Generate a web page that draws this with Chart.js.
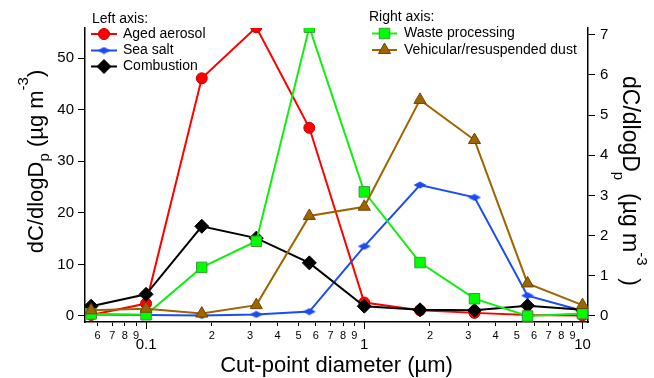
<!DOCTYPE html>
<html>
<head>
<meta charset="utf-8">
<script src="https://cdn.jsdelivr.net/npm/chart.js@4/dist/chart.umd.min.js"></script>
<style>
  html, body { margin: 0; padding: 0; background: #fff; }
</style>
</head>
<body>
<canvas id="myChart" width="654" height="378"></canvas>
<script>
// impactor cut-point diameters (µm)
const diameters = [0.056, 0.1, 0.18, 0.32, 0.56, 1.0, 1.8, 3.2, 5.6, 10];

// left axis sources
const agedAerosol = [0.2, 2.4, 46.1, 56.0, 36.5, 2.6, 1.1, 0.6, 0.2, 0.1];
const seaSalt = [0.3, 0.2, 0.1, 0.3, 0.85, 13.5, 25.4, 23.0, 3.95, 1.0];
const combustion = [1.9, 4.2, 17.4, 15.1, 10.3, 1.9, 1.2, 1.1, 2.0, 1.2];

// right axis sources
const wasteProcessing = [0.05, 0.03, 1.21, 1.86, 7.19, 3.09, 1.33, 0.43, 0.0, 0.06];
const vehicularDust = [0.14, 0.18, 0.06, 0.27, 2.49, 2.72, 5.38, 4.38, 0.81, 0.27];

// ticks
const xMajor = [0.1, 1, 10];
const xTicks = [0.06, 0.07, 0.08, 0.09, 0.1, 0.2, 0.3, 0.4, 0.5, 0.6, 0.7, 0.8, 0.9, 1,
  2, 3, 4, 5, 6, 7, 8, 9, 10];
const leftTicks = [0, 10, 20, 30, 40, 50];
const rightTicks = [0, 1, 2, 3, 4, 5, 6, 7];

const FONT = "'Liberation Sans', Arial, sans-serif";
Chart.defaults.font.family = FONT;
Chart.defaults.color = "#000";

const pts = arr => diameters.map((d, i) => ({ x: d, y: arr[i] }));
const isMajor = v => xMajor.some(m => Math.abs(v - m) < 1e-9);

// flat blue diamond for sea salt
const diamond = document.createElement("canvas");
diamond.width = 14;
diamond.height = 8;
(function () {
  const c = diamond.getContext("2d");
  c.fillStyle = "#1a4cf2";
  c.beginPath();
  c.moveTo(0.5, 4);
  c.lineTo(7, 0.5);
  c.lineTo(13.5, 4);
  c.lineTo(7, 7.5);
  c.closePath();
  c.fill();
})();

const datasets = [
  {
    label: "Aged aerosol", data: pts(agedAerosol), yAxisID: "y", order: 5,
    borderColor: "#ff0000", backgroundColor: "#ff0000", borderWidth: 2,
    pointStyle: "circle", pointRadius: 5.5, pointBorderColor: "#c00000", pointBorderWidth: 1,
  },
  {
    label: "Sea salt", data: pts(seaSalt), yAxisID: "y", order: 4,
    borderColor: "#1a4cf2", backgroundColor: "#1a4cf2", borderWidth: 2,
    pointStyle: diamond, pointRadius: 6,
  },
  {
    label: "Combustion", data: pts(combustion), yAxisID: "y", order: 3,
    borderColor: "#000000", backgroundColor: "#000000", borderWidth: 2,
    pointStyle: "rectRot", pointRadius: 7, pointBorderWidth: 1,
  },
  {
    label: "Waste processing", data: pts(wasteProcessing), yAxisID: "y1", order: 2,
    borderColor: "#11ee11", backgroundColor: "#00ff00", borderWidth: 2,
    pointStyle: "rect", pointRadius: 7.4, pointBorderColor: "#3c9b3c", pointBorderWidth: 1,
  },
  {
    label: "Vehicular/resuspended dust", data: pts(vehicularDust), yAxisID: "y1", order: 1,
    borderColor: "#9c6500", backgroundColor: "#9c6500", borderWidth: 2,
    pointStyle: "triangle", pointRadius: 7, pointBorderColor: "#6e4700", pointBorderWidth: 1,
  },
];

function drawMarker(ctx, ds, x, y) {
  ctx.save();
  ctx.fillStyle = ds.backgroundColor;
  ctx.strokeStyle = ds.pointBorderColor || ds.borderColor;
  ctx.lineWidth = ds.pointBorderWidth || 0;
  Chart.helpers.drawPoint(ctx, {
    pointStyle: ds.pointStyle, radius: ds.pointRadius, rotation: 0,
    borderWidth: ds.pointBorderWidth || 0,
  }, x, y);
  ctx.restore();
}

function drawRich(ctx, parts) {
  let total = 0;
  parts.forEach(p => {
    ctx.font = p.size + "px " + FONT;
    p.w = ctx.measureText(p.t).width;
    total += p.w;
  });
  let x = -total / 2;
  parts.forEach(p => {
    ctx.font = p.size + "px " + FONT;
    ctx.fillText(p.t, x, p.dy);
    x += p.w;
  });
}

const decorPlugin = {
  id: "decor",
  afterDraw(chart) {
    const ctx = chart.ctx;
    const xs = chart.scales.x;
    const area = chart.chartArea;

    // longer major ticks on the x axis
    ctx.save();
    ctx.strokeStyle = "#000";
    ctx.lineWidth = 1;
    xMajor.forEach(v => {
      const px = Math.round(xs.getPixelForValue(v)) + 0.5;
      ctx.beginPath();
      ctx.moveTo(px, area.bottom);
      ctx.lineTo(px, area.bottom + 7);
      ctx.stroke();
    });
    ctx.restore();

    // axis titles with sub/superscripts
    ctx.save();
    ctx.fillStyle = "#000";
    ctx.textAlign = "left";
    ctx.textBaseline = "alphabetic";
    ctx.translate(43, 161.5);
    ctx.rotate(-Math.PI / 2);
    drawRich(ctx, [
      { t: "dC/dlogD", size: 22, dy: 0 },
      { t: "p", size: 15, dy: 6 },
      { t: " (µg m", size: 22, dy: 0 },
      { t: "-3", size: 15, dy: -15 },
      { t: ")", size: 22, dy: 0 },
    ]);
    ctx.restore();

    ctx.save();
    ctx.fillStyle = "#000";
    ctx.textAlign = "left";
    ctx.textBaseline = "alphabetic";
    ctx.translate(623, 181);
    ctx.rotate(Math.PI / 2);
    drawRich(ctx, [
      { t: "dC/dlogD", size: 23, dy: 0 },
      { t: "p", size: 15, dy: 9 },
      { t: "  (µg m", size: 23, dy: 0 },
      { t: "-3", size: 15, dy: -14 },
      { t: "  )", size: 23, dy: 0 },
    ]);
    ctx.restore();

    // legends
    ctx.save();
    ctx.font = "14px " + FONT;
    ctx.fillStyle = "#000";
    ctx.textBaseline = "middle";
    ctx.textAlign = "left";
    ctx.fillText("Left axis:", 92, 19);
    ctx.fillText("Right axis:", 369, 17);
    const groups = [
      { items: [0, 1, 2], x1: 91, x2: 117, tx: 123, ys: [34, 50.5, 66.5] },
      { items: [3, 4], x1: 372, x2: 397, tx: 404, ys: [33.5, 50] },
    ];
    groups.forEach(g => {
      g.items.forEach((di, k) => {
        const ds = datasets[di];
        const y = g.ys[k];
        ctx.strokeStyle = ds.borderColor;
        ctx.lineWidth = 2;
        ctx.beginPath();
        ctx.moveTo(g.x1, y);
        ctx.lineTo(g.x2, y);
        ctx.stroke();
        drawMarker(ctx, ds, (g.x1 + g.x2) / 2, y);
        ctx.fillStyle = "#000";
        ctx.fillText(ds.label, g.tx, y);
      });
    });
    ctx.restore();
  },
};

const ctx = document.getElementById("myChart").getContext("2d");
const myChart = new Chart(ctx, {
  type: "line",
  data: { datasets: datasets },
  options: {
    responsive: false,
    animation: false,
    devicePixelRatio: 1,
    layout: { padding: { top: 28, left: 0, right: 0, bottom: 0 } },
    elements: { line: { tension: 0 } },
    plugins: { legend: { display: false }, tooltip: { enabled: false } },
    scales: {
      x: {
        type: "logarithmic",
        min: 0.0525,
        max: 10.6,
        afterBuildTicks: s => { s.ticks = xTicks.map(v => ({ value: v, major: isMajor(v) })); },
        afterFit: s => { s.height = 56; },
        border: { display: true, color: "#000", width: 1.5 },
        grid: { drawOnChartArea: false, drawTicks: true, tickLength: 4, color: "#000" },
        ticks: {
          autoSkip: false,
          maxRotation: 0,
          padding: 3,
          color: "#000",
          font: c => (c.tick && isMajor(c.tick.value))
            ? { size: 15, lineHeight: 0.7 }
            : { size: 11, lineHeight: 1.2 },
          callback: v => {
            if (isMajor(v)) return ["", String(v)];
            return String(Math.round(v / Math.pow(10, Math.floor(Math.log10(v) + 1e-9))));
          },
        },
        title: {
          display: true,
          text: "Cut-point diameter (µm)",
          font: { size: 22, lineHeight: 1.1 },
          padding: { top: 0, bottom: 0 },
        },
      },
      y: {
        position: "left",
        min: -1.17,
        max: 55.86,
        afterBuildTicks: s => { s.ticks = leftTicks.map(v => ({ value: v })); },
        afterFit: s => { s.width = 85; },
        border: { display: true, color: "#000", width: 1.5 },
        grid: { drawOnChartArea: false, drawTicks: true, tickLength: 7, color: "#000" },
        ticks: { padding: 4, font: { size: 15 }, color: "#000" },
      },
      y1: {
        position: "right",
        min: -0.15,
        max: 7.17,
        afterBuildTicks: s => { s.ticks = rightTicks.map(v => ({ value: v })); },
        afterFit: s => { s.width = 66; },
        border: { display: true, color: "#000", width: 1.5 },
        grid: { drawOnChartArea: false, drawTicks: true, tickLength: 7, color: "#000" },
        ticks: { padding: 5, font: { size: 15 }, color: "#000" },
      },
    },
  },
  plugins: [decorPlugin],
});
</script>
</body>
</html>
